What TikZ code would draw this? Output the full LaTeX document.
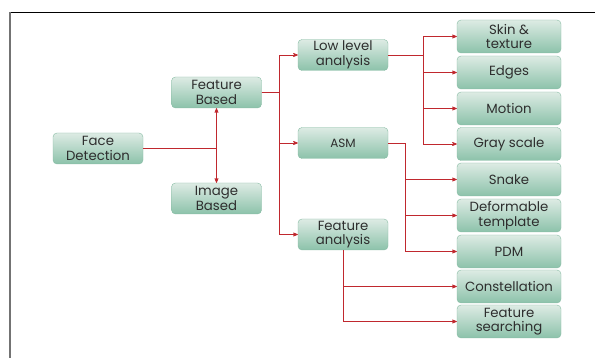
\documentclass[tikz,border=0pt]{standalone}
\usepackage{fontspec}
\setmainfont{Poppins}
\usepackage{tikz}
\usetikzlibrary{arrows}
\definecolor{boxtop}{HTML}{DDEBE4}
\definecolor{boxbot}{HTML}{8CC2AA}
\definecolor{boxline}{HTML}{86BBA3}
\definecolor{linkred}{HTML}{C0282E}
\tikzset{
 fd_box/.style = {rectangle, rounded corners=4pt, draw=boxline,
    top color=boxtop, bottom color=boxbot, align=center, inner sep=0pt,
    text=black!82, font=\fontsize{13.3}{14.5}\selectfont},
  fd_mid/.style = {fd_box, minimum width=90pt, minimum height=31pt},% boite du milieu
  fd_leaf/.style = {fd_box, minimum width=104pt, minimum height=33pt},% feuille
  link/.style = {->, draw=linkred, line width=0.7pt}
}

\begin{document}
\begin{tikzpicture}[x=1pt,y=-1pt,>=stealth']
  \useasboundingbox (0,0) rectangle (595,358);
  \draw[black,line width=0.8pt] (595,12) -- (10,12);
  \draw[black!55,line width=1.2pt] (10,12) -- (10,358);

  \node [fd_mid] (face) at (98,148.5) {Face\\Detection};
  \node [fd_mid] (fbased) at (216.5,92.5) {Feature\\Based};
  \node [fd_mid] (ibased) at (216.5,198.5) {Image\\Based};

  \node [fd_mid] (low) at (343,55) {Low level\\analysis};
  \node [fd_mid, font=\fontsize{12}{13}\selectfont] (asm) at (343,143) {ASM};
  \node [fd_mid] (fana) at (343,234.5) {Feature\\analysis};

  \node [fd_leaf] (skin) at (509,36.5) {Skin \&\\texture};
  \node [fd_leaf] (edges) at (509,72.5) {Edges};
  \node [fd_leaf] (motion) at (509,108.5) {Motion};
  \node [fd_leaf] (gray) at (509,144) {Gray scale};
  \node [fd_leaf] (snake) at (509,179.5) {Snake};
  \node [fd_leaf] (deform) at (509,215.5) {Deformable\\template};
  \node [fd_leaf] (pdm) at (509,251.5) {PDM};
  \node [fd_leaf] (const) at (509,286.5) {Constellation};
  \node [fd_leaf] (fsearch) at (509,321.5) {Feature\\searching};

  \draw [link] (face.east) -| (fbased.south);
  \draw [link] (face.east) -| (ibased.north);

  \foreach \n in {low,asm,fana}
    \draw [link] (fbased.east) -- ++(18,0) |- (\n.west);
  \foreach \n in {skin,edges,motion,gray}
    \draw [link] (low.east) -- ++(35,0) |- (\n.west);
  \foreach \n in {snake,deform,pdm}
    \draw [link] (asm.east) -- ++(17,0) |- (\n.west);
  \foreach \n in {const,fsearch}
    \draw [link] (fana.south) |- (\n.west);
\end{tikzpicture}
\end{document}
